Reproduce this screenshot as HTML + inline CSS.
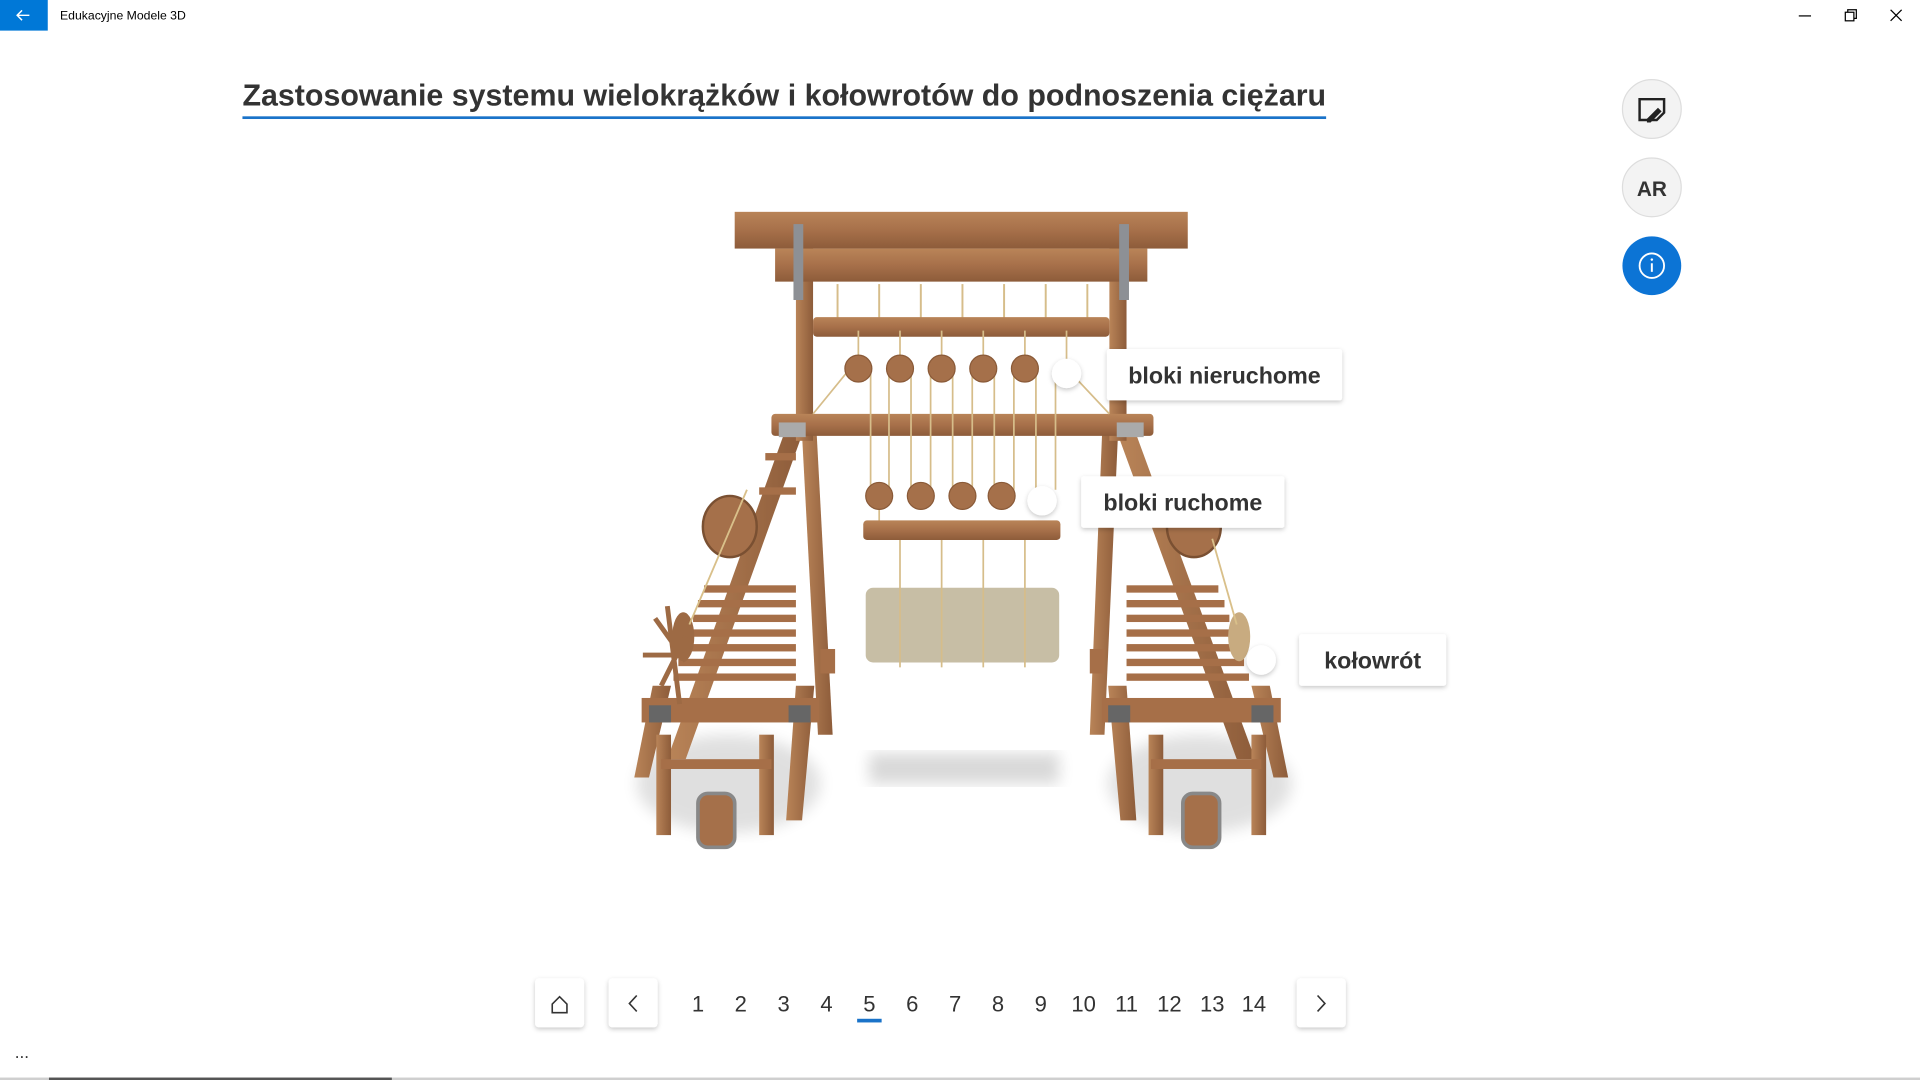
<!DOCTYPE html>
<html><head><meta charset="utf-8"><style>
html,body{margin:0;padding:0;background:#fff;width:1920px;height:1080px;overflow:hidden}
svg{display:block}
text{font-family:"Liberation Sans",sans-serif}
</style></head><body>
<svg width="1920" height="1080" viewBox="0 0 1568 882" preserveAspectRatio="none" xmlns="http://www.w3.org/2000/svg">
<defs>
<filter id="sh" x="-20%" y="-30%" width="140%" height="170%"><feDropShadow dx="0" dy="1.5" stdDeviation="2" flood-color="#000" flood-opacity="0.22"/></filter>
<filter id="bl"><feGaussianBlur stdDeviation="6"/></filter>
<linearGradient id="wd" x1="0" y1="0" x2="0" y2="1"><stop offset="0" stop-color="#b98458"/><stop offset="0.5" stop-color="#a7704a"/><stop offset="1" stop-color="#8d5c3a"/></linearGradient>
<linearGradient id="wv" x1="0" y1="0" x2="1" y2="0"><stop offset="0" stop-color="#b98458"/><stop offset="1" stop-color="#8d5c3a"/></linearGradient>
</defs>
<rect x="0" y="0" width="39" height="25" fill="#0078d7"/>
<path d="M24 12.5H14M18 8.5l-4 4 4 4" stroke="#fff" stroke-width="1.2" fill="none"/>
<text x="49" y="16" font-size="10" fill="#000">Edukacyjne Modele 3D</text>
<line x1="1469" y1="13" x2="1479" y2="13" stroke="#000" stroke-width="1"/>
<rect x="1507" y="10" width="7" height="7" fill="none" stroke="#000" stroke-width="1"/>
<path d="M1509 10v-2h7v7h-2" fill="none" stroke="#000" stroke-width="1"/>
<path d="M1544 8l9 9M1553 8l-9 9" stroke="#000" stroke-width="1"/>
<text x="198" y="86" font-size="25" font-weight="bold" fill="#333" textLength="885" lengthAdjust="spacingAndGlyphs">Zastosowanie systemu wielokrążków i kołowrotów do podnoszenia ciężaru</text>
<rect x="198" y="95" width="885" height="2.2" fill="#1a73c9"/>
<circle cx="1349" cy="89" r="24" fill="#f3f3f3" stroke="#ddd"/>
<path d="M1339 81h20v11l-6 6h-14z" fill="none" stroke="#222" stroke-width="2"/>
<path d="M1345 97l9-9 3 3-9 9h-3z" fill="#222"/>
<circle cx="1349" cy="153" r="24" fill="#f3f3f3" stroke="#ddd"/>
<text x="1349" y="160" font-size="17" font-weight="bold" fill="#333" text-anchor="middle">AR</text>
<circle cx="1349" cy="217" r="24" fill="#0c74d5"/>
<circle cx="1349" cy="217" r="10" fill="none" stroke="#fff" stroke-width="1.5"/>
<rect x="1348.2" y="215" width="1.6" height="7" fill="#fff"/><circle cx="1349" cy="212" r="1" fill="#fff"/>

<ellipse cx="595" cy="640" rx="75" ry="40" fill="#000" opacity="0.12" filter="url(#bl)"/>
<ellipse cx="980" cy="640" rx="75" ry="40" fill="#000" opacity="0.12" filter="url(#bl)"/>
<rect x="710" y="615" width="155" height="25" fill="#000" opacity="0.15" filter="url(#bl)"/>

<g fill="url(#wv)">
<polygon points="640,355 655,355 560,620 545,620"/>
<polygon points="655,355 667,355 680,600 668,600"/>
<polygon points="533,560 548,560 530,635 518,635"/>
<polygon points="650,560 665,560 655,670 642,670"/>
<rect x="536" y="600" width="12" height="82"/>
<rect x="620" y="600" width="12" height="82"/>
</g>
<g fill="#a66f48">
<rect x="575" y="478" width="75" height="6"/><rect x="570" y="490" width="80" height="6"/><rect x="566" y="502" width="84" height="6"/><rect x="562" y="514" width="88" height="6"/><rect x="558" y="526" width="92" height="6"/><rect x="554" y="538" width="96" height="6"/><rect x="550" y="550" width="100" height="6"/>
<rect x="625" y="370" width="25" height="6"/><rect x="620" y="398" width="30" height="6"/>
<rect x="524" y="570" width="145" height="20"/>
<rect x="540" y="620" width="90" height="8"/>
<rect x="670" y="530" width="12" height="20"/>
</g>
<rect x="530" y="576" width="18" height="14" fill="#666"/><rect x="644" y="576" width="18" height="14" fill="#666"/>
<ellipse cx="596" cy="430" rx="22" ry="25" fill="#a5704a" stroke="#7a5032" stroke-width="2"/>
<ellipse cx="558" cy="520" rx="9" ry="20" fill="#9d6a44"/>
<g stroke="#9d6a44" stroke-width="4"><line x1="525" y1="535" x2="560" y2="535"/><line x1="535" y1="505" x2="560" y2="540"/><line x1="540" y1="560" x2="560" y2="520"/><line x1="545" y1="495" x2="555" y2="575"/></g>
<rect x="570" y="648" width="30" height="44" rx="8" fill="#a5704a" stroke="#888" stroke-width="3"/>
<line x1="563" y1="510" x2="610" y2="400" stroke="#d9c08a" stroke-width="1.5"/>

<g fill="url(#wv)">
<polygon points="913,355 928,355 1025,620 1010,620"/>
<polygon points="900,355 913,355 902,600 890,600"/>
<polygon points="1022,560 1037,560 1052,635 1040,635"/>
<polygon points="905,560 920,560 928,670 915,670"/>
<rect x="1022" y="600" width="12" height="82"/>
<rect x="938" y="600" width="12" height="82"/>
</g>
<g fill="#a66f48">
<rect x="920" y="478" width="75" height="6"/><rect x="920" y="490" width="80" height="6"/><rect x="920" y="502" width="84" height="6"/><rect x="920" y="514" width="88" height="6"/><rect x="920" y="526" width="92" height="6"/><rect x="920" y="538" width="96" height="6"/><rect x="920" y="550" width="100" height="6"/>
<rect x="900" y="570" width="146" height="20"/>
<rect x="940" y="620" width="90" height="8"/>
<rect x="890" y="530" width="12" height="20"/>
</g>
<rect x="905" y="576" width="18" height="14" fill="#666"/><rect x="1022" y="576" width="18" height="14" fill="#666"/>
<ellipse cx="975" cy="430" rx="22" ry="25" fill="#a5704a" stroke="#7a5032" stroke-width="2"/>
<ellipse cx="1012" cy="520" rx="9" ry="20" fill="#c8ab80"/>
<rect x="966" y="648" width="30" height="44" rx="8" fill="#a5704a" stroke="#888" stroke-width="3"/>
<line x1="990" y1="440" x2="1010" y2="510" stroke="#d9c08a" stroke-width="1.5"/>

<rect x="650" y="180" width="14" height="180" fill="url(#wv)"/>
<rect x="906" y="180" width="14" height="180" fill="url(#wv)"/>
<rect x="600" y="173" width="370" height="30" fill="url(#wd)"/>
<rect x="633" y="203" width="304" height="27" fill="url(#wd)"/>
<rect x="648" y="183" width="8" height="62" fill="#8d9095"/><rect x="914" y="183" width="8" height="62" fill="#8d9095"/>
<g stroke="#d6bd8a" stroke-width="1.6" fill="none">
<line x1="684" y1="232" x2="684" y2="262"/><line x1="718" y1="232" x2="718" y2="262"/><line x1="752" y1="232" x2="752" y2="262"/><line x1="786" y1="232" x2="786" y2="262"/><line x1="820" y1="232" x2="820" y2="262"/><line x1="854" y1="232" x2="854" y2="262"/><line x1="888" y1="232" x2="888" y2="262"/>
</g>
<rect x="664" y="259" width="242" height="16" rx="3" fill="url(#wd)"/>
<rect x="630" y="338" width="312" height="18" rx="3" fill="url(#wd)"/>
<rect x="636" y="345" width="22" height="12" fill="#aaa"/><rect x="912" y="345" width="22" height="12" fill="#aaa"/>
<g stroke="#d6bd8a" stroke-width="1.4" fill="none">
<line x1="664" y1="338" x2="695" y2="300"/><line x1="875" y1="305" x2="906" y2="338"/>
<path d="M701 270V301M711 301V400M718 400V430"/>
<path d="M735 270V301M726 301V400"/><path d="M744 301V400"/>
<path d="M769 270V301M760 301V400M778 301V400"/>
<path d="M803 270V301M794 301V400M812 301V400"/>
<path d="M837 270V301M828 301V400M846 301V400"/>
<path d="M871 270V301M862 301V400"/>
</g>
<g fill="#a5704a" stroke="#8a5a38" stroke-width="1">
<circle cx="701" cy="301" r="11"/><circle cx="735" cy="301" r="11"/><circle cx="769" cy="301" r="11"/><circle cx="803" cy="301" r="11"/><circle cx="837" cy="301" r="11"/>
<circle cx="718" cy="405" r="11"/><circle cx="752" cy="405" r="11"/><circle cx="786" cy="405" r="11"/><circle cx="818" cy="405" r="11"/>
</g>
<rect x="705" y="425" width="161" height="16" rx="3" fill="url(#wd)"/>
<rect x="707" y="480" width="158" height="61" rx="6" fill="#c7bea5"/>
<g stroke="#d6bd8a" stroke-width="1.4"><line x1="735" y1="441" x2="735" y2="545"/><line x1="769" y1="441" x2="769" y2="545"/><line x1="803" y1="441" x2="803" y2="545"/><line x1="837" y1="441" x2="837" y2="545"/></g>

<g filter="url(#sh)" fill="#fff">
<circle cx="871" cy="305" r="12"/>
<circle cx="851" cy="409" r="12"/>
<circle cx="1030" cy="539" r="12"/>
<rect x="904" y="285" width="192" height="42" rx="2"/>
<rect x="883" y="389" width="166" height="42" rx="2"/>
<rect x="1061" y="518" width="120" height="42" rx="2"/>
</g>
<g font-size="19" font-weight="bold" fill="#333" text-anchor="middle">
<text x="1000" y="313">bloki nieruchome</text>
<text x="966" y="417">bloki ruchome</text>
<text x="1121" y="546">kołowrót</text>
</g>

<g filter="url(#sh)" fill="#fff">
<rect x="437" y="799" width="40" height="40" rx="3"/>
<rect x="497" y="799" width="40" height="40" rx="3"/>
<rect x="1059" y="799" width="40" height="40" rx="3"/>
</g>
<path d="M451 820l6-6 6 6v7h-12z" fill="none" stroke="#333" stroke-width="1.3"/>
<path d="M520 813l-6 6.5 6 6.5" fill="none" stroke="#333" stroke-width="1.3"/>
<path d="M1076 813l6 6.5-6 6.5" fill="none" stroke="#333" stroke-width="1.3"/>
<g font-size="18" fill="#333" text-anchor="middle">
<text x="570" y="826">1</text><text x="605" y="826">2</text><text x="640" y="826">3</text><text x="675" y="826">4</text><text x="710" y="826">5</text><text x="745" y="826">6</text><text x="780" y="826">7</text><text x="815" y="826">8</text><text x="850" y="826">9</text><text x="885" y="826">10</text><text x="920" y="826">11</text><text x="955" y="826">12</text><text x="990" y="826">13</text><text x="1024" y="826">14</text>
</g>
<rect x="700" y="832" width="20" height="3" fill="#1a73c9"/>
<text x="12" y="864" font-size="14" fill="#333">...</text>
<rect x="0" y="880" width="1568" height="2" fill="#cfcfcf"/>
<rect x="40" y="880" width="280" height="2" fill="#555"/>
</svg>
</body></html>
